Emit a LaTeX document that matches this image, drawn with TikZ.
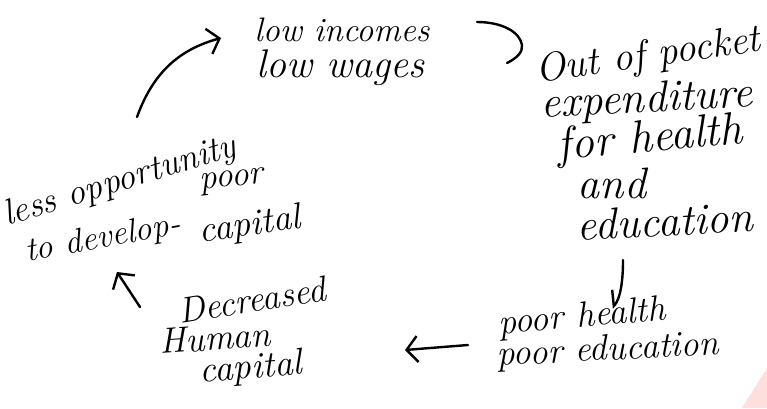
\documentclass[tikz,border=0pt]{standalone}
\usetikzlibrary{arrows.meta,calc}
\begin{document}
\begin{tikzpicture}[x=1pt,y=-1pt,
  hand/.style={font=\fontsize{#1}{#1}\selectfont\itshape, inner sep=0pt, text=black},
  hand/.default=36,
  pen/.style={line width=2.4pt, line cap=round, line join=round},
  flow/.style={pen, -{Straight Barb[length=11pt,width=26pt,line width=2.4pt]}},
  flowhalf/.style={pen, -{Straight Barb[length=11pt,width=24pt,harpoon,swap,line width=2.4pt]}}]
\useasboundingbox (0,0) rectangle (767,408);
\fill[white] (0,0) rectangle (767,408);
% faint tint in the lower right corner
\fill[red!25, opacity=0.5] (742,408) -- (767,368) -- (767,408) -- cycle;

% low incomes
\node[hand=34] (inc1) at (342,30) {low incomes};
\node[hand=40] (inc2) at (340,68) {low wages};

% out of pocket expenditure
\node[hand=40, rotate=8] (oop1) at (648,57) {Out of pocket};
\node[hand=44, rotate=3] (oop2) at (647,101) {expenditure};
\node[hand=46, rotate=5] (oop3) at (650,140) {for health};
\node[hand=44] (oop4) at (612,183) {and};
\node[hand=44, rotate=3] (oop5) at (665,221) {education};

% poor health
\node[hand, rotate=5] (ph1) at (582,318) {poor health};
\node[hand, rotate=3] (ph2) at (608,351) {poor education};

% decreased human capital
\node[hand, rotate=9] (dc1) at (252,300) {Decreased};
\node[hand, rotate=4] (dc2) at (215,338) {Human};
\node[hand=37, rotate=5] (dc3) at (251,369) {capital};

% less opportunity
\node[hand, rotate=17] (lo1) at (120,182) {less opportunity};
\node[hand=34, rotate=10] (lo2) at (103,239) {to develop-};
\node[hand=35, rotate=6] (lo2b) at (232,182) {poor};
\node[hand=37, rotate=8] (lo3) at (250,226) {capital};

% cycle connectors
\draw[flow] ($(lo1.center)+(17,-65)$) .. controls ($(lo1.center)+(35,-115)$) and ($(inc1.center)+(-157,18)$) .. ($(inc1.center)+(-121,8)$);
\draw[pen] ($(inc1.center)+(135,-8)$) .. controls ($(inc1.center)+(160,-8)$) and ($(inc1.center)+(178,2)$) .. ($(inc1.center)+(180,15)$)
  .. controls ($(inc1.center)+(181,22)$) and ($(inc1.center)+(175,28)$) .. ($(inc1.center)+(165,33)$);
\draw[flowhalf] ($(oop5.center)+(-42,39)$) .. controls ($(oop5.center)+(-42,62)$) and ($(oop5.center)+(-45,78)$) .. ($(oop5.center)+(-53,87)$);
\draw[flow] ($(ph2.center)+(-140,-6)$) -- ($(ph2.center)+(-203,-1)$);
\draw[flow] ($(dc2.center)+(-75,-31)$) -- ($(dc2.center)+(-98,-66)$);
\end{tikzpicture}
\end{document}
